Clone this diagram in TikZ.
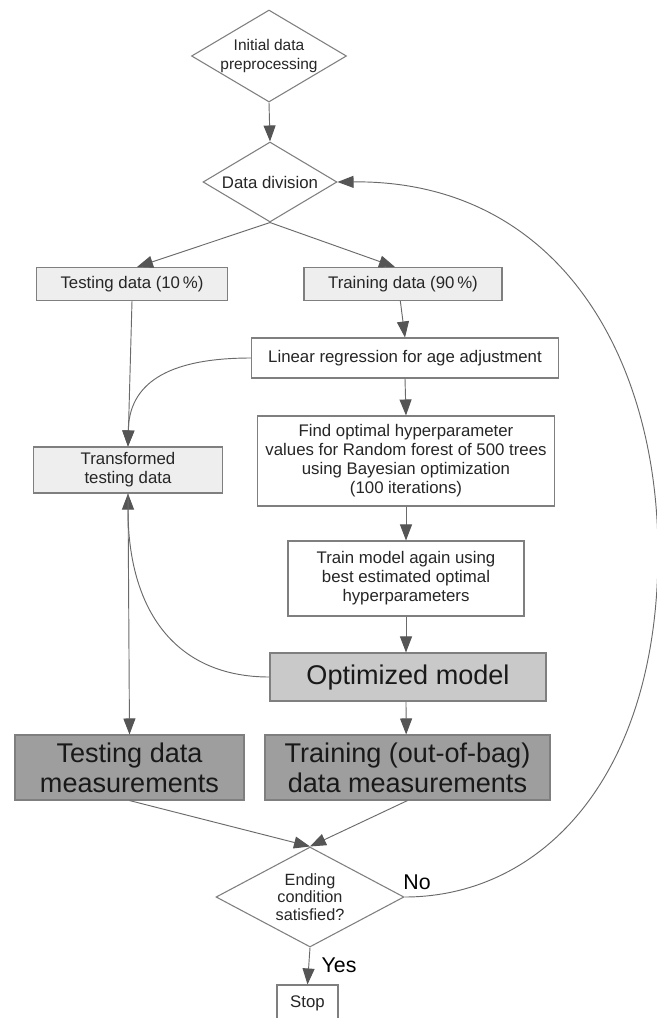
\documentclass[tikz,border=0pt]{standalone}
\usepackage{fontspec}
\setmainfont{Liberation Sans}
\usetikzlibrary{shapes.geometric,arrows.meta,calc}
\definecolor{lineC}{HTML}{6A6A6A}
\definecolor{tipC}{HTML}{555555}
\definecolor{bordC}{HTML}{7F7F7F}
\definecolor{lightF}{HTML}{EEEEEE}
\definecolor{midF}{HTML}{C9C9C9}
\definecolor{darkF}{HTML}{9E9E9E}
\begin{document}
\begin{tikzpicture}[x=0.75pt,y=-0.75pt,
  smalltext/.style={font=\fontsize{12.6}{14.2}\selectfont, text=black!85},
  bigtext/.style={font=\fontsize{20.3}{22.5}\selectfont, text=black!90},
  box/.style={draw=bordC, line width=0.8pt, rectangle, inner sep=0pt, align=center},
  dia/.style={draw=bordC, line width=0.8pt, diamond, inner sep=0pt, align=center, smalltext},
  conn/.style={draw=lineC, line width=0.7pt, -{Triangle[length=12pt,width=9pt,fill=tipC,color=tipC]}},
  plain/.style={draw=lineC, line width=0.7pt}
]
\useasboundingbox (0,0) rectangle (657,1018);
\fill[white] (0,0) rectangle (657,1018);

\node[dia, aspect=1.68, minimum width=116.25pt, minimum height=69pt, font=\fontsize{11.6}{13.6}\selectfont] (init) at (269,56) {Initial data\\preprocessing};
\node[dia, aspect=1.675, minimum width=100.5pt, minimum height=60pt] (div) at (270,182) {Data division};

\node[box, smalltext, fill=lightF, minimum width=143.25pt, minimum height=24.75pt] (test) at (132,284) {Testing data (10\,\%)};
\node[box, smalltext, fill=lightF, minimum width=148.5pt, minimum height=24.75pt] (train) at (403,284) {Training data (90\,\%)};

\node[box, smalltext, fill=white, minimum width=230.25pt, minimum height=30pt] (lin) at (405,358) {Linear regression for age adjustment};
\node[box, smalltext, fill=white, minimum width=222.75pt, minimum height=67.5pt] (find) at (406,461) {Find optimal hyperparameter\\values for Random forest of 500 trees\\using Bayesian optimization\\(100 iterations)};
\node[box, smalltext, fill=lightF, minimum width=141.75pt, minimum height=34.5pt] (trans) at (128,470) {Transformed\\testing data};
\node[box, smalltext, fill=white, minimum width=177pt, minimum height=56.25pt] (again) at (406,578.5) {Train model again using\\best estimated optimal\\hyperparameters};
\node[box, bigtext, fill=midF, minimum width=207pt, minimum height=36pt] (opt) at (408,677) {Optimized model};
\node[box, bigtext, fill=darkF, minimum width=171.75pt, minimum height=48.75pt] (testm) at (129.5,767.5) {Testing data\\measurements};
\node[box, bigtext, fill=darkF, minimum width=213.75pt, minimum height=48.75pt] (trainm) at (407.5,767.5) {Training (out-of-bag)\\data measurements};

\node[dia, aspect=1.88, minimum width=141pt, minimum height=75pt, font=\fontsize{12.2}{13.2}\selectfont] (end) at (310,897) {Ending\\condition\\satisfied?};
\node[box, smalltext, fill=white, minimum width=45.75pt, minimum height=27.75pt] (stop) at (307.5,1003.5) {Stop};

\node[font=\fontsize{16}{18}\selectfont] (nolab) at (417,882) {No};
\node[font=\fontsize{16}{18}\selectfont] (yeslab) at (339,965) {Yes};

\draw[conn] (init.south) -- (div.north);
\draw[conn] (div.south) -- ([xshift=3.75pt]test.north);
\draw[conn] (div.south) -- ([xshift=-6pt]train.north);
\draw[conn] (test.south) -- (trans.north);
\draw[conn] ([xshift=-2pt]train.south) -- (lin.north);
\draw[conn] (lin.west) .. controls (165,358) and (129,385) .. (trans.north);
\draw[conn] (lin.south) -- (find.north);
\draw[conn] (find.south) -- (again.north);
\draw[conn] (again.south) -- ([xshift=-1.5pt]opt.north);
\draw[conn] (opt.west) .. controls (175,677) and (128,610) .. (trans.south);
\draw[conn] (trans.south) -- (testm.north);
\draw[conn] ([xshift=-1.5pt]opt.south) -- ([xshift=-1pt]trainm.north);
\draw[conn] (testm.south) -- (end.north);
\draw[conn] (trainm.south) -- (end.north);
\draw[conn] (end.east) .. controls (540,897) and (655,780) .. (658,560) .. controls (660,360) and (560,180) .. (div.east);
\draw[conn] (end.south) -- (stop.north);
\end{tikzpicture}
\end{document}
